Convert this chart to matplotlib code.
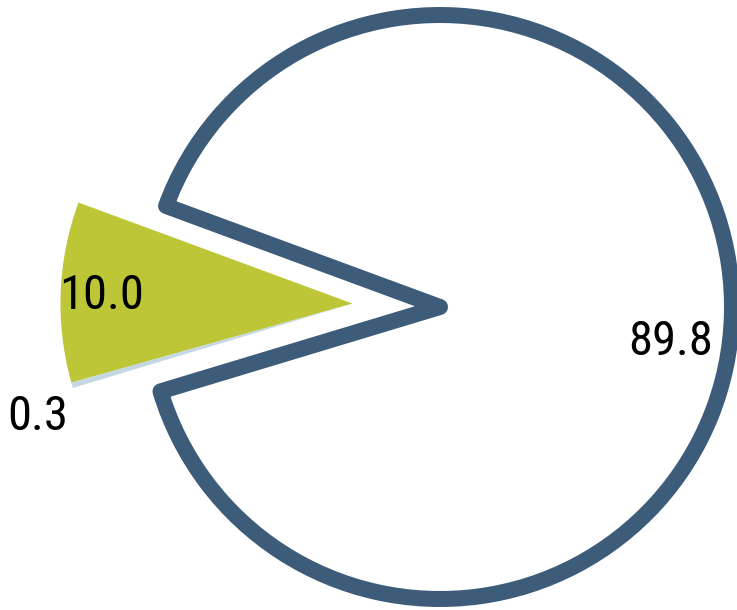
import numpy as np
import matplotlib
matplotlib.use("Agg")
import matplotlib.pyplot as plt

# data
values = [89.8, 10.0, 0.3]
labels = ["89.8", "10.0", "0.3"]
colors = ["#ffffff", "#bcc636", "#c3d8e2"]
explode = [0.0, 0.3, 0.3]

# label placement (fraction of radius, angular tweak in degrees)
label_dist = [0.80, 0.86, 1.147]
label_turn = [-7.0, 0.5, 3.6]

W, H = 737, 610
fig = plt.figure(figsize=(W / 100, H / 100), dpi=100)
ax = fig.add_axes([0, 0, 1, 1])

R = 292
wedges, _ = ax.pie(values, explode=[e * R for e in explode], colors=colors,
                   startangle=196.8, counterclock=True, radius=R,
                   center=(440, 303))
ax.set_xlim(0, W)
ax.set_ylim(0, H)
ax.set_aspect("equal")
ax.axis("off")

# the small slice travels together with the 10.0 slice
wedges[2].set_center(wedges[1].center)

font_list = ["Roboto Condensed", "Open Sans Condensed", "Liberation Sans Narrow",
             "DejaVu Sans"]
for i, w in enumerate(wedges):
    if i == 0:
        w.set_edgecolor("#3d5c7a")
        w.set_linewidth(16 * 72 / 100)
        w.set_joinstyle("round")
    else:
        w.set_linewidth(0)
    mid = np.deg2rad((w.theta1 + w.theta2) / 2 + label_turn[i])
    cx, cy = w.center
    x = cx + label_dist[i] * R * np.cos(mid)
    y = cy + label_dist[i] * R * np.sin(mid)
    ax.text(x, y, labels[i], ha="center", va="center", fontsize=35,
            family=font_list, fontstretch="condensed", color="black")

fig.savefig("out.png", dpi=100)
